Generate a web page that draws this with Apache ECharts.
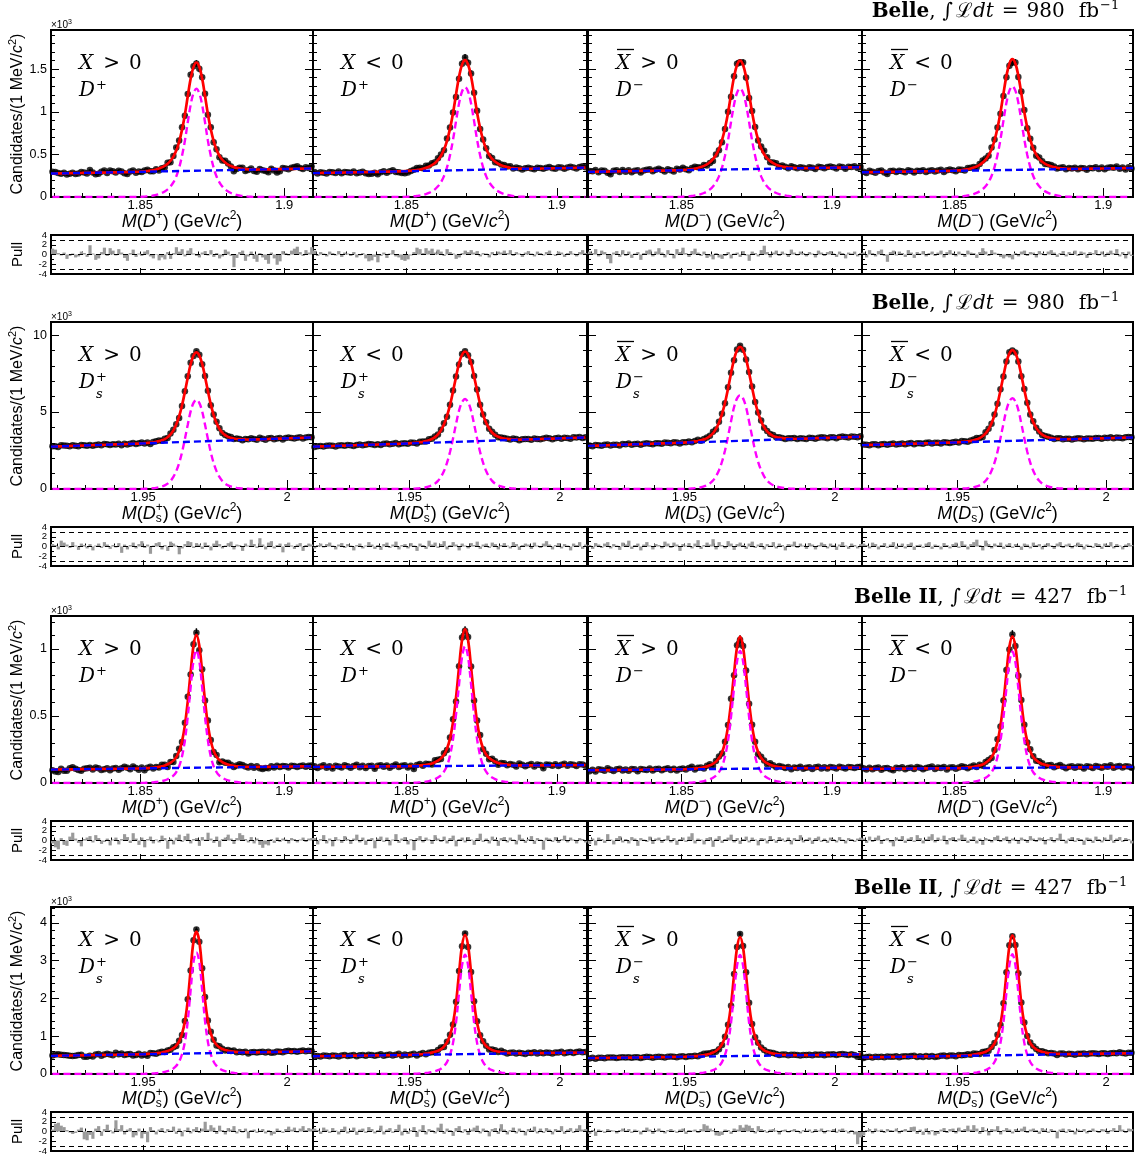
<!DOCTYPE html>
<html>
<head>
<meta charset="utf-8">
<title>Mass fits</title>
<script src="https://cdn.jsdelivr.net/npm/echarts@6.0.0/dist/echarts.min.js"></script>
<style>
html,body{margin:0;padding:0;background:#fff;}
#chart{width:1137px;height:1158px;}
</style>
</head>
<body>
<div id="chart"></div>
<script>
// ---------------- axis ranges / tick labels (GeV/c^2) ----------------
const rangeD  = [1.819, 1.910];
const rangeDs = [1.918, 2.009];
const binWidth = 0.001;
const tickLabelsD  = [1.85, 1.9];
const tickLabelsDs = [1.95, 2];
const pullTickLabels = [-4, -2, 0, 2, 4];
const sigStartBin = 30;           // first bin of the stored signal window

// ---------------- row / panel titles ----------------
const experiments  = ['Belle', 'Belle', 'Belle II', 'Belle II'];
const luminosities = ['980', '980', '427', '427'];
const panelSigns   = ['>', '<', '>', '<'];
const panelBar     = [false, false, true, true];
const panelCharges = ['+', '+', '\u2212', '\u2212'];

// ---------------- background (counts / 1 MeV at low and high edge) ----------------
const bkgA = [[275,335],[280,345],[295,350],[290,340]];      // Belle D+
const bkgB = [[2750,3350],[2750,3350],[2800,3400],[2850,3350]]; // Belle Ds
const bkgC = [[100,125],[120,134],[95,115],[105,120]];       // Belle II D+
const bkgD = [[480,600],[470,570],[420,520],[440,550]];      // Belle II Ds

// ---------------- signal component (counts / 1 MeV, bins 30..70) ----------------
const sigA1 = [1,3,5,8,11,17,24,34,47,65,89,123,171,241,343,483,660,876,1080,1219,1270,1219,1080,876,660,483,343,241,171,123,89,65,47,34,24,17,11,8,5,3,1];
const sigA2 = [1,3,5,8,12,17,25,35,48,66,90,125,174,245,348,490,671,890,1097,1238,1290,1238,1097,890,671,490,348,245,174,125,90,66,48,35,25,17,12,8,5,3,1];
const sigA3 = [1,3,5,8,11,17,24,34,47,65,89,124,172,242,344,485,663,880,1084,1224,1275,1224,1084,880,663,485,344,242,172,124,89,65,47,34,24,17,11,8,5,3,1];
const sigA4 = [1,3,5,8,12,17,25,35,48,66,91,126,176,247,351,494,676,897,1105,1248,1300,1248,1105,897,676,494,351,247,176,126,91,66,48,35,25,17,12,8,5,3,1];

const sigB1 = [0,6,12,23,35,52,75,110,162,232,348,522,783,1160,1682,2378,3248,4176,5046,5597,5800,5597,5046,4176,3248,2378,1682,1160,783,522,348,232,162,110,75,52,35,23,12,6,0];
const sigB2 = [0,6,12,23,35,53,76,111,164,234,351,527,790,1170,1697,2399,3276,4212,5090,5645,5850,5645,5090,4212,3276,2399,1697,1170,790,527,351,234,164,111,76,53,35,23,12,6,0];
const sigB3 = [0,6,12,24,37,55,79,116,171,244,366,549,824,1220,1769,2501,3416,4392,5307,5887,6100,5887,5307,4392,3416,2501,1769,1220,824,549,366,244,171,116,79,55,37,24,12,6,0];
const sigB4 = [0,6,12,24,35,53,77,112,165,236,354,531,797,1180,1711,2419,3304,4248,5133,5694,5900,5694,5133,4248,3304,2419,1711,1180,797,531,354,236,165,112,77,53,35,24,12,6,0];

const sigC1 = [0,0,1,2,3,5,7,10,14,20,28,40,55,81,124,198,317,495,713,911,990,911,713,495,317,198,124,81,55,40,28,20,14,10,7,5,3,2,1,0,0];
const sigC2 = [0,0,1,2,3,5,7,10,14,20,29,41,57,84,128,204,326,510,734,938,1020,938,734,510,326,204,128,84,57,41,29,20,14,10,7,5,3,2,1,0,0];
const sigC3 = [0,0,1,2,3,5,7,10,14,20,28,39,55,81,123,197,315,493,709,906,985,906,709,493,315,197,123,81,55,39,28,20,14,10,7,5,3,2,1,0,0];
const sigC4 = [0,0,1,2,3,5,7,10,14,20,27,39,55,80,123,196,314,490,706,902,980,902,706,490,314,196,123,80,55,39,27,20,14,10,7,5,3,2,1,0,0];

const sigD1 = [0,0,3,7,10,13,20,29,39,55,75,104,147,215,326,522,848,1402,2217,2967,3220,2967,2217,1402,848,522,326,215,147,104,75,55,39,29,20,13,10,7,3,0,0];
const sigD2 = [0,0,3,6,9,13,19,28,38,54,73,101,142,209,316,506,822,1359,2149,2876,3160,2876,2149,1359,822,506,316,209,142,101,73,54,38,28,19,13,9,6,3,0,0];
const sigD3 = [0,0,3,6,9,13,19,28,38,54,72,101,142,208,315,504,819,1355,2142,2867,3150,2867,2142,1355,819,504,315,208,142,101,72,54,38,28,19,13,9,6,3,0,0];
const sigD4 = [0,0,3,6,10,13,19,29,38,54,73,101,143,209,317,507,824,1363,2156,2885,3170,2885,2156,1363,824,507,317,209,143,101,73,54,38,29,19,13,10,6,3,0,0];

// ---------------- pulls (91 bins per panel) ----------------
const pullA1 = [1.2,1.0,0.3,-0.2,0.4,-0.9,-0.3,0.2,-0.6,-0.4, 0.6,0.3,-0.5,1.9,0.2,-1.1,-0.8,0.5,1.4,-0.3, 1.3,0.8,-0.2,1.1,0.4,-0.7,-1.3,0.3,1.0,-0.5, 0.2,-0.3,0.6,0.9,-0.4,-0.8,0.1,-1.2,-0.6,-1.0, 0.5,-0.9,0.3,1.5,0.6,1.1,-0.4,0.8,1.3,0.2, -0.3,-0.6,0.4,0.7,-0.2,0.9,-0.5,0.3,-0.8,-0.4, 1.0,0.6,-0.3,-2.6,-0.7,0.5,0.8,-1.3,-0.4,0.6, -0.9,-1.5,0.3,-0.6,-1.1,-1.9,0.4,-0.8,-2.1,-1.4, 0.7,0.3,-0.2,0.8,1.2,1.6,0.5,-0.3,0.9,0.4, 1.5];
const pullA2 = [0.8,-0.3,0.5,0.2,-0.4,0.6,0.3,-0.2,0.7,-0.5, 0.4,0.2,-0.3,0.5,-0.6,-0.2,0.3,-0.8,-1.4,-1.2, -0.5,-1.6,-0.3,0.4,-0.7,0.2,0.9,-0.4,-0.6,-1.1, -1.3,-1.0,-0.2,0.5,1.4,1.1,0.3,1.3,0.8,1.2, 0.4,1.0,0.6,-0.3,1.1,0.5,0.2,-0.9,-0.6,0.3, 0.8,0.5,0.9,0.4,0.7,-0.4,0.3,0.2,-0.6,0.5, -0.2,0.6,0.4,0.8,0.3,0.9,-0.3,0.5,0.2,-0.5, 0.4,0.7,0.2,-0.4,0.6,0.3,-0.2,0.5,0.8,0.1, -0.3,0.6,0.4,-0.5,0.3,0.7,0.2,-0.4,0.5,0.9, 0.3];
const pullA3 = [0.6,0.3,1.1,-0.4,0.8,0.5,-0.9,-1.8,0.4,0.7, -0.5,0.9,-0.3,0.6,-0.7,0.2,0.5,-1.1,0.3,0.8, 1.0,-0.4,0.6,1.3,0.4,-0.6,0.9,0.2,-0.8,1.1, 0.5,1.4,0.3,-0.5,0.7,1.2,0.4,-0.3,0.6,-0.7, -0.4,-1.0,0.3,-0.6,-0.9,-0.3,0.5,-0.8,0.2,0.4, -0.5,0.7,-0.2,-1.3,0.6,0.3,-0.4,0.9,1.8,0.5, -0.6,0.4,0.8,-0.3,0.6,0.2,-0.5,1.0,0.4,-0.2, 0.6,0.3,-0.4,0.5,0.2,-0.6,0.8,0.4,-0.3,0.5, 0.7,0.2,-0.5,0.6,0.3,-0.8,0.4,0.2,0.6,-0.4, 0.3];
const pullA4 = [0.4,-0.6,0.9,0.3,-0.4,0.7,1.0,-0.3,-1.5,0.5, 0.8,-0.2,0.6,0.3,-0.5,0.9,0.4,-0.7,0.5,0.2, 0.7,-0.4,0.3,0.6,-0.3,0.4,0.8,-0.6,0.5,0.9, 0.3,-0.4,0.6,0.2,-0.5,0.8,0.4,0.3,-0.7,0.5, 1.3,0.6,-0.3,0.9,0.4,0.2,-0.5,-0.8,-0.4,-0.6, -1.0,0.3,-0.4,0.6,0.8,-0.3,0.5,0.4,-0.6,0.7, 0.3,-0.2,0.6,0.9,0.4,-0.5,0.3,0.7,-0.4,0.5, 0.2,0.8,-0.3,0.6,0.4,-0.7,0.5,0.3,0.9,-0.2, 0.6,-0.5,0.4,0.8,0.3,1.1,-0.4,0.5,-0.8,0.6, -0.3];

const pullB1 = [0.5,0.3,-0.6,1.2,0.8,0.4,-0.3,0.9,0.2,-0.7, 0.6,0.3,-0.4,0.5,-0.8,0.2,0.6,-0.3,0.9,0.4, -0.5,0.3,-0.2,0.7,-1.3,0.4,-0.6,0.3,0.8,-0.4, 0.5,1.1,-0.3,0.4,-1.5,0.2,0.7,0.9,-0.6,0.3, -0.9,1.0,0.6,0.2,-1.6,-0.4,0.5,1.1,0.9,-0.3, 0.7,0.4,-0.5,0.8,0.3,-0.8,0.6,1.2,0.5,-0.4, 0.2,0.7,1.0,-0.6,0.4,0.3,-0.9,0.6,0.2,1.4, 0.5,-0.3,1.7,0.4,-0.6,0.8,1.1,-0.4,0.3,0.6, -1.2,0.5,0.8,0.2,-0.5,0.4,0.7,-0.9,0.3,0.6, 0.4];
const pullB2 = [-0.4,0.3,0.6,-0.2,0.5,0.8,0.2,-0.6,0.4,0.7, -0.3,0.5,0.2,-0.8,0.3,0.6,-0.4,0.2,0.9,0.4, -0.5,0.3,-0.7,0.5,0.8,-0.3,0.4,1.0,-0.6,0.3, 0.5,-0.4,0.7,0.2,-0.9,0.6,0.3,-0.5,1.2,0.4, 0.8,-0.3,0.5,1.1,-0.6,0.3,0.9,0.4,-0.8,0.6, 0.2,-0.4,0.7,0.3,1.0,-0.5,0.4,0.6,-0.3,0.8, 0.5,-0.6,0.3,0.7,0.2,-0.4,0.9,0.5,-0.7,0.3, 0.6,0.4,-0.5,0.8,0.2,-0.3,0.6,1.1,0.4,-0.6, 0.3,0.7,-0.4,0.5,0.2,-0.8,0.6,0.3,0.9,-0.5, 0.4];
const pullB3 = [0.3,-0.5,0.7,0.4,-0.3,0.6,0.9,-0.4,0.5,0.2, -0.7,0.8,0.4,1.2,-0.5,0.3,0.6,-0.8,0.4,0.9, 0.2,-0.6,0.5,0.3,-0.4,1.0,0.6,-0.3,0.8,0.4, -0.9,0.5,0.2,0.7,-0.4,0.6,1.3,-0.5,0.3,0.8, 0.4,1.5,-0.6,0.9,0.3,-0.4,1.1,0.6,-0.7,0.5, 0.8,0.3,-0.5,0.6,1.0,-0.3,0.4,0.7,-0.6,0.5, 0.2,0.9,-0.4,0.6,0.3,-0.8,0.5,0.4,1.0,-0.3, 0.6,0.2,-0.5,0.7,0.4,-0.6,0.3,0.8,0.5,-0.4, 0.6,0.3,-0.7,0.4,0.9,0.2,-0.5,0.6,0.3,-0.4, 0.5];
const pullB4 = [0.6,0.3,-0.4,0.8,0.5,-0.6,0.3,0.7,-0.3,0.4, 0.9,-0.5,0.2,0.6,-0.4,0.5,0.8,-0.7,0.3,0.4, -0.3,0.6,0.9,-0.5,0.4,0.2,-0.6,0.7,0.3,-0.4, 0.5,0.8,-0.3,1.1,0.4,-0.6,0.5,0.9,1.4,0.3, -0.8,1.2,0.5,-0.4,0.6,0.3,0.8,-0.5,0.4,0.7, -0.3,0.5,0.2,-0.7,0.6,0.4,-0.4,0.8,0.3,0.5, -0.6,0.4,0.7,0.2,-0.5,0.6,0.9,-0.3,0.4,0.6, -0.4,0.3,0.8,0.5,-0.6,0.4,0.2,-0.3,0.7,0.5, -0.5,0.6,0.3,0.9,-0.4,0.5,0.2,-0.6,0.4,0.7, 0.3];

const pullC1 = [-0.6,-1.4,-1.8,0.5,-0.9,-1.1,0.8,1.6,0.4,-0.5, -1.2,0.3,0.6,0.9,-0.4,1.1,0.5,-0.7,-0.3,0.4, -1.0,0.2,0.6,-0.8,0.3,1.3,0.7,-0.5,1.5,0.4, -0.9,0.6,-1.4,0.3,0.8,-0.6,0.2,-0.4,1.0,0.5, -1.7,0.4,-0.8,0.6,1.2,-0.3,0.9,1.4,-0.6,0.3, 0.5,-1.1,0.7,0.2,1.6,0.4,-0.5,0.8,-1.3,0.3, 0.6,1.2,0.4,-0.7,0.5,1.5,1.1,0.3,-0.4,0.7, -0.6,0.4,-0.9,-1.5,-0.8,-1.0,0.3,-0.5,0.6,-0.3, 0.4,0.2,-0.6,0.5,0.3,-0.4,0.2,0.6,-0.3,0.4, 0.5];
const pullC2 = [0.5,-0.8,0.3,1.1,-0.6,0.4,-1.2,0.7,0.2,-0.5, 0.9,0.3,-0.7,0.4,1.2,-0.4,0.6,-0.9,0.3,0.5, -1.6,0.4,0.8,-0.3,0.6,-1.0,0.2,1.3,-0.5,0.4, 0.7,-0.8,0.3,-2.0,0.5,0.9,-0.4,0.6,0.2,-0.7, 1.1,0.4,-0.3,0.8,-0.6,0.5,1.0,-1.2,0.3,0.6, -0.4,0.7,0.2,-0.9,0.5,1.4,-0.3,0.4,-0.6,0.8, 0.3,-1.1,0.5,0.7,-0.4,0.6,0.2,-0.8,1.2,0.4, -0.5,0.3,0.9,-0.7,0.5,0.2,-1.9,0.6,0.4,-0.3, 0.7,-0.5,0.3,1.0,-0.4,0.6,0.2,-0.6,0.5,0.3, -0.4];
const pullC3 = [-0.7,0.4,-1.0,0.6,0.3,-0.5,1.3,0.2,-0.8,0.5, 0.9,-0.4,0.3,-0.6,0.7,0.4,-1.1,0.5,0.2,-0.3, 0.8,-0.7,0.4,0.6,-0.5,0.3,1.0,-0.4,0.5,-0.9, 0.3,0.6,-0.3,0.8,1.5,-0.6,0.4,0.2,-0.8,0.5, 0.7,-1.3,0.4,0.9,-0.5,0.3,0.6,1.2,-0.4,0.5, -0.7,0.3,0.8,-0.4,0.6,0.2,-1.0,0.5,0.4,-0.6, 0.9,0.3,-0.5,0.7,0.4,-0.3,0.6,-0.8,0.5,0.2, 1.1,-0.4,0.3,0.6,-0.7,0.5,0.8,-0.3,0.4,-0.5, 0.6,0.3,-0.4,0.7,0.2,-0.6,0.5,0.3,-0.3,0.4, 0.6];
const pullC4 = [0.4,-0.5,0.8,-0.3,0.6,1.0,-0.7,0.3,0.5,-0.4, -1.2,0.6,0.3,0.9,-0.5,0.4,0.7,-0.3,1.1,0.5, -0.6,0.3,0.8,1.3,-0.4,0.6,0.2,1.0,-0.8,0.5, 0.7,-0.3,0.4,1.2,0.6,-0.5,0.3,0.8,-0.6,0.4, -0.9,0.5,0.3,-0.4,0.7,1.0,-0.3,0.5,0.8,-0.6, 0.4,0.2,-0.7,0.6,0.3,-0.5,0.9,0.4,-0.3,0.6, 0.5,-0.8,0.3,0.7,-0.4,0.5,1.4,0.2,-0.6,0.4, 0.7,-0.3,0.5,0.3,-0.9,0.6,0.4,-0.5,0.8,0.3, -0.4,0.6,0.2,1.2,-0.5,0.4,0.7,-0.3,0.5,0.3, -0.6];

const pullD1 = [0.4,1.6,1.8,1.2,0.9,0.3,-0.2,-0.5,-0.3,0.4, 0.8,-1.6,-1.8,-0.7,-1.5,0.6,1.1,-0.9,0.5,1.4, 0.3,-0.4,2.3,0.5,1.3,-0.6,0.4,0.7,-1.2,-0.8, 0.6,-1.4,-0.5,-2.2,0.9,0.3,-0.6,0.4,0.7,-0.3, 0.5,0.2,1.0,-0.5,0.6,-1.0,0.3,0.8,-0.4,0.5, 0.9,-0.3,0.6,2.0,0.4,1.3,0.8,-0.5,1.2,0.3, -0.6,0.7,0.4,1.1,-0.4,0.5,-0.2,0.6,-1.4,0.3, 0.4,-0.3,0.2,0.5,-0.4,0.3,-0.8,-0.5,0.6,0.2, -0.3,0.5,1.0,0.4,0.8,-0.2,0.6,1.1,0.3,0.7, 0.5];
const pullD2 = [0.6,0.3,-0.5,0.8,0.4,-0.3,0.7,0.2,-0.6,0.5, 1.0,-0.4,0.3,0.8,-0.7,0.4,0.6,-0.3,0.9,0.5, -0.4,0.3,1.2,-0.6,0.4,0.7,-0.3,0.5,1.4,-0.8, 0.6,-0.5,0.3,0.9,-1.1,0.4,1.3,-0.6,0.5,0.3, -0.4,0.8,1.6,-0.5,0.6,0.3,-0.9,0.7,1.1,-0.3, 0.5,-0.7,0.4,0.8,1.2,-0.4,0.6,0.3,-1.0,0.5, 0.7,-0.5,1.5,0.4,-0.6,0.3,0.8,-0.4,0.6,0.2, -0.8,0.5,0.3,1.0,-0.4,0.6,-0.3,0.7,0.4,-0.6, 0.5,0.3,1.1,-0.5,0.4,0.7,-0.3,0.6,1.3,0.4, 0.5];
const pullD3 = [-0.5,0.3,-0.9,0.4,0.2,-0.3,0.5,0.3,0.2,-0.4, 0.3,0.6,0.2,0.5,-0.3,0.4,0.2,-0.6,0.3,0.8, 0.4,-0.5,0.3,0.6,0.2,-0.4,0.3,0.5,0.2,-0.3, 0.4,0.6,-0.5,0.3,0.2,0.4,-0.3,0.5,1.5,1.2, 0.6,0.3,-0.8,-0.9,-0.7,0.4,0.3,-0.5,0.6,0.4, 1.3,0.8,1.4,1.2,0.7,-0.4,1.1,0.5,0.3,-0.3, 0.4,0.5,0.2,-0.6,0.3,0.4,-0.2,0.3,0.5,0.2, -0.4,0.3,0.2,0.4,-0.3,0.5,0.2,0.6,-0.4,0.3, 0.2,0.5,-0.3,0.4,0.6,0.2,-0.4,0.3,-0.6,-2.6, -1.2];
const pullD4 = [-0.8,0.3,0.5,-0.4,0.6,0.2,0.4,-0.3,0.5,0.3, 0.2,0.6,-0.4,0.3,0.5,0.2,0.9,1.0,-0.5,0.4, -0.7,0.6,-0.6,0.3,-0.8,-0.5,0.4,0.7,-0.3,0.5, 0.6,-0.4,0.8,0.3,0.5,1.2,0.4,1.3,0.6,-0.5, 0.9,0.3,-0.8,0.5,0.4,1.1,-0.6,0.3,0.7,0.4, -0.4,0.5,0.2,0.6,1.0,-0.3,0.4,0.6,0.3,-0.5, 0.7,0.4,-0.3,0.5,0.2,-1.4,0.4,0.6,-0.3,0.5, 0.3,-0.6,0.4,0.2,0.5,-0.4,0.3,0.6,0.2,-0.3, 0.5,0.4,-0.5,0.3,0.7,0.2,1.3,0.4,-0.3,0.6, 0.5];

// ---------------- layout ----------------
const ROWS = [
  {top: 30,  range: rangeD,  ticks: tickLabelsD,  ymax: 1.96,  yint: 0.5, ds: false, bkg: bkgA, sig: [sigA1,sigA2,sigA3,sigA4], pull: [pullA1,pullA2,pullA3,pullA4], hx: 1099},
  {top: 322, range: rangeDs, ticks: tickLabelsDs, ymax: 10.85, yint: 5,   ds: true,  bkg: bkgB, sig: [sigB1,sigB2,sigB3,sigB4], pull: [pullB1,pullB2,pullB3,pullB4], hx: 1099},
  {top: 616, range: rangeD,  ticks: tickLabelsD,  ymax: 1.245, yint: 0.5, ds: false, bkg: bkgC, sig: [sigC1,sigC2,sigC3,sigC4], pull: [pullC1,pullC2,pullC3,pullC4], hx: 1107},
  {top: 907, range: rangeDs, ticks: tickLabelsDs, ymax: 4.42,  yint: 1,   ds: true,  bkg: bkgD, sig: [sigD1,sigD2,sigD3,sigD4], pull: [pullD1,pullD2,pullD3,pullD4], hx: 1107}
];
const COLS = [{l: 51, w: 262}, {l: 313, w: 274}, {l: 588, w: 274}, {l: 862, w: 271}];
const MAIN_H = 167, PULL_OFF = 205, PULL_H = 39;

const SERIF = '"DejaVu Serif"';
const SANS = '"Liberation Sans", Arial, sans-serif';

// ---------------- text helper (measured layout) ----------------
const mctx = document.createElement('canvas').getContext('2d');
function fontStr(p, fam) { return (p.it ? 'italic ' : '') + (p.b ? 'bold ' : '') + p.s + 'px ' + (p.f || fam); }
function mathText(pieces, opt) {
  let cx = 0, lastX = 0;
  const kids = [];
  pieces.forEach(p => {
    const f = fontStr(p, opt.fam);
    mctx.font = f;
    const w = mctx.measureText(p.t).width;
    let px;
    if (p.stack) { px = lastX; cx = Math.max(cx, px + w); }
    else { px = cx + (p.gap || 0); lastX = px; cx = px + w; }
    kids.push({type: 'text', x: px, y: p.dy || 0, silent: true,
      style: {text: p.t, font: f, fill: '#000', textAlign: 'left', textVerticalAlign: 'middle', align: 'left', verticalAlign: 'middle'}});
  });
  const off = opt.align === 'center' ? -cx / 2 : (opt.align === 'right' ? -cx : 0);
  kids.forEach(k => { k.x += off; });
  return {type: 'group', x: opt.x, y: opt.y, rotation: opt.rot || 0, children: kids, z: 100, silent: true};
}

// ---------------- render helpers ----------------
function errRender(params, api) {
  const x = api.value(0), y = api.value(1), e = api.value(2);
  const l = api.coord([x - binWidth / 2, y]), r = api.coord([x + binWidth / 2, y]);
  const t = api.coord([x, y + e]), b = api.coord([x, y - e]);
  return {type: 'group', children: [
    {type: 'line', shape: {x1: l[0], y1: l[1], x2: r[0], y2: r[1]}, style: {stroke: '#000', lineWidth: 1.4}},
    {type: 'line', shape: {x1: t[0], y1: t[1], x2: b[0], y2: b[1]}, style: {stroke: '#000', lineWidth: 1.4}}
  ]};
}
function barRender(params, api) {
  const x = api.value(0), v = api.value(1);
  const a = api.coord([x - binWidth / 2, v]), b = api.coord([x + binWidth / 2, 0]);
  return {type: 'rect', shape: {x: a[0], y: Math.min(a[1], b[1]), width: b[0] - a[0] + 0.3, height: Math.abs(b[1] - a[1])},
    style: {fill: '#9a9a9a'}};
}

const option = {animation: false, backgroundColor: '#fff', grid: [], xAxis: [], yAxis: [], series: []};
const graphics = [];
const pullLabelAxes = [];
const TL = {color: '#000', width: 1};

ROWS.forEach((R, r) => {
  const T = R.top, lo = R.range[0], hi = R.range[1];
  const nb = Math.round((hi - lo) / binWidth);
  const centers = [];
  for (let i = 0; i < nb; i++) centers.push(+(lo + (i + 0.5) * binWidth).toFixed(4));
  const minorVals = [];
  for (let v = Math.ceil(lo * 100 - 1e-6); v <= Math.floor(hi * 100 + 1e-6); v++) minorVals.push(+(v / 100).toFixed(2));

  // row header
  graphics.push(mathText([
    {t: experiments[r], s: 20, b: true},
    {t: ',', s: 20},
    {t: '\u222B', s: 20, gap: 7},
    {t: '\u2112', s: 20, gap: 3},
    {t: 'dt', s: 20, it: true},
    {t: '=', s: 20, gap: 8},
    {t: luminosities[r], s: 20, gap: 8},
    {t: 'fb', s: 20, gap: 14}
  ], {x: R.hx, y: T - 18, align: 'right', fam: SERIF}));
  graphics.push(mathText([{t: '\u22121', s: 13}], {x: R.hx + 1, y: T - 24, align: 'left', fam: SERIF}));
  // x10^3
  graphics.push(mathText([{t: '\u00D710', s: 10}, {t: '3', s: 7, dy: -3}], {x: 51, y: T - 5, align: 'left', fam: SANS}));
  // y titles
  graphics.push(mathText([{t: 'Candidates/(1 MeV/', s: 16}, {t: 'c', s: 16, it: true}, {t: '2', s: 11, dy: -5}, {t: ')', s: 16}],
    {x: 18, y: T + 84, align: 'center', rot: Math.PI / 2, fam: SANS}));
  graphics.push(mathText([{t: 'Pull', s: 15}], {x: 18, y: T + PULL_OFF + PULL_H / 2, align: 'center', rot: Math.PI / 2, fam: SANS}));

  COLS.forEach((C, c) => {
    const bk = R.bkg[c], sw = R.sig[c], pl = R.pull[c];
    const bkgAt = x => bk[0] + (bk[1] - bk[0]) * (x - lo) / (hi - lo);
    const sigAt = i => { const j = i - sigStartBin; return (j >= 0 && j < sw.length) ? sw[j] : 0; };
    const fit = centers.map((x, i) => bkgAt(x) + sigAt(i));
    const pts = centers.map((x, i) => { const f = fit[i], e = Math.sqrt(f); return [x, (f + (pl[i] || 0) * e) / 1000, e / 1000]; });

    const gMain = option.grid.length;
    option.grid.push({left: C.l, top: T, width: C.w, height: MAIN_H, show: true, borderColor: '#000', borderWidth: 2,
      backgroundColor: 'transparent', containLabel: false, outerBoundsMode: 'none'});
    const gPull = gMain + 1;
    option.grid.push({left: C.l, top: T + PULL_OFF, width: C.w, height: PULL_H, show: true, borderColor: '#000', borderWidth: 2,
      backgroundColor: 'transparent', containLabel: false, outerBoundsMode: 'none'});

    const xb = g => ({gridIndex: g, type: 'value', min: lo, max: hi, position: 'bottom', axisLine: {show: false}, splitLine: {show: false}});
    const ix = option.xAxis.length;
    option.xAxis.push(Object.assign(xb(gMain), {axisTick: {show: true, inside: true, length: 4, customValues: minorVals, lineStyle: TL},
      axisLabel: {show: true, customValues: R.ticks, color: '#000', fontSize: 13, fontFamily: SANS, margin: 2}}));
    option.xAxis.push(Object.assign(xb(gMain), {axisTick: {show: true, inside: true, length: 9, customValues: R.ticks, lineStyle: TL}, axisLabel: {show: false}}));
    option.xAxis.push(Object.assign(xb(gPull), {axisTick: {show: true, inside: true, length: 3, customValues: minorVals, lineStyle: TL}, axisLabel: {show: false}}));
    option.xAxis.push(Object.assign(xb(gPull), {axisTick: {show: true, inside: true, length: 6, customValues: R.ticks, lineStyle: TL}, axisLabel: {show: false}}));

    const iy = option.yAxis.length;
    const yb = (pos, lab) => ({gridIndex: gMain, type: 'value', min: 0, max: R.ymax, interval: R.yint, position: pos,
      axisLine: {show: false}, splitLine: {show: false},
      axisTick: {show: true, inside: true, length: 8, lineStyle: TL},
      minorTick: {show: true, splitNumber: 5, length: 4, lineStyle: TL},
      axisLabel: {show: lab, showMaxLabel: false, color: '#000', fontSize: 12.5, fontFamily: SANS, margin: 4}});
    option.yAxis.push(yb('left', c === 0));
    option.yAxis.push(yb('right', false));
    option.yAxis.push({gridIndex: gPull, type: 'value', min: -4, max: 4, interval: 2, position: 'left',
      axisLine: {show: false}, splitLine: {show: false},
      axisTick: {show: true, inside: true, length: 5, lineStyle: TL},
      minorTick: {show: true, splitNumber: 2, length: 3, lineStyle: TL},
      axisLabel: {show: false}});
    if (c === 0) pullLabelAxes.push({axis: iy + 2, x: C.l - 4});

    // main panel series
    option.series.push({type: 'custom', xAxisIndex: ix, yAxisIndex: iy, data: pts, renderItem: errRender, z: 2, silent: true});
    option.series.push({type: 'scatter', xAxisIndex: ix, yAxisIndex: iy, data: pts.map(p => [p[0], p[1]]), symbol: 'circle',
      symbolSize: 6.5, itemStyle: {color: '#000'}, z: 3, silent: true});
    option.series.push({type: 'line', xAxisIndex: ix, yAxisIndex: iy, data: centers.map((x, i) => [x, fit[i] / 1000]),
      smooth: 0.35, showSymbol: false, lineStyle: {color: '#ff0000', width: 2.7}, z: 4, silent: true});
    option.series.push({type: 'line', xAxisIndex: ix, yAxisIndex: iy, data: centers.map((x, i) => [x, sigAt(i) / 1000]),
      smooth: 0.35, showSymbol: false, lineStyle: {color: '#ff00ff', width: 2.4, type: [7, 4]}, z: 5, silent: true});
    option.series.push({type: 'line', xAxisIndex: ix, yAxisIndex: iy, data: [[lo, bk[0] / 1000], [hi, bk[1] / 1000]],
      showSymbol: false, lineStyle: {color: '#0000ff', width: 2.4, type: [7, 4]}, z: 6, silent: true});

    // pull panel series
    const pd = centers.map((x, i) => [x, pl[i] || 0]);
    option.series.push({type: 'custom', xAxisIndex: ix + 2, yAxisIndex: iy + 2, data: pd, renderItem: barRender, z: 2, silent: true});
    option.series.push({type: 'line', xAxisIndex: ix + 2, yAxisIndex: iy + 2, data: pd, showSymbol: false,
      lineStyle: {opacity: 0, width: 0}, z: 3, silent: true,
      markLine: {silent: true, symbol: ['none', 'none'], label: {show: false}, animation: false,
        lineStyle: {color: '#000', width: 1, type: [5, 4]}, data: [{yAxis: 3}, {yAxis: 0}, {yAxis: -3}]}});

    // panel labels
    const L = C.l;
    graphics.push(mathText([{t: 'X', s: 20, it: true}, {t: panelSigns[c], s: 20, gap: 10}, {t: '0', s: 20, gap: 9}],
      {x: L + 28, y: T + 34, align: 'left', fam: SERIF}));
    if (panelBar[c]) {
      graphics.push({type: 'line', shape: {x1: L + 29, y1: T + 19.5, x2: L + 46, y2: T + 19.5}, style: {stroke: '#000', lineWidth: 1.3}, z: 100, silent: true});
    }
    const dl = [{t: 'D', s: 20, it: true}];
    if (R.ds) { dl.push({t: 's', s: 13, it: true, dy: 12, gap: 1}); dl.push({t: panelCharges[c], s: 13, dy: -5, stack: true}); }
    else { dl.push({t: panelCharges[c], s: 13, dy: -5, gap: 1}); }
    graphics.push(mathText(dl, {x: L + 28, y: T + 61, align: 'left', fam: SERIF}));

    // x-axis title
    const xt = [{t: 'M', s: 18, it: true}, {t: '(', s: 18}, {t: 'D', s: 18, it: true}];
    if (R.ds) { xt.push({t: 's', s: 12, dy: 5}); xt.push({t: panelCharges[c], s: 12, dy: -6, stack: true}); }
    else { xt.push({t: panelCharges[c], s: 12, dy: -6}); }
    xt.push({t: ') (GeV/', s: 18}, {t: 'c', s: 18, it: true}, {t: '2', s: 12, dy: -6}, {t: ')', s: 18});
    graphics.push(mathText(xt, {x: L + C.w / 2, y: T + MAIN_H + 25, align: 'center', fam: SANS}));
  });
});

option.graphic = {elements: graphics};
const chart = echarts.init(document.getElementById('chart'), null, {renderer: 'canvas', width: 1137, height: 1158});
chart.setOption(option);

// pull tick labels, placed through the pull axes' own scale
const pullLabels = [];
pullLabelAxes.forEach(pa => {
  pullTickLabels.forEach(v => {
    const py = chart.convertToPixel({yAxisIndex: pa.axis}, v);
    pullLabels.push({type: 'text', x: pa.x, y: py, silent: true, z: 100,
      style: {text: String(v), font: '9.5px "Liberation Sans", Arial, sans-serif', fill: '#000',
        textAlign: 'right', textVerticalAlign: 'middle', align: 'right', verticalAlign: 'middle'}});
  });
});
chart.setOption({graphic: {elements: graphics.concat(pullLabels)}});
</script>
</body>
</html>
